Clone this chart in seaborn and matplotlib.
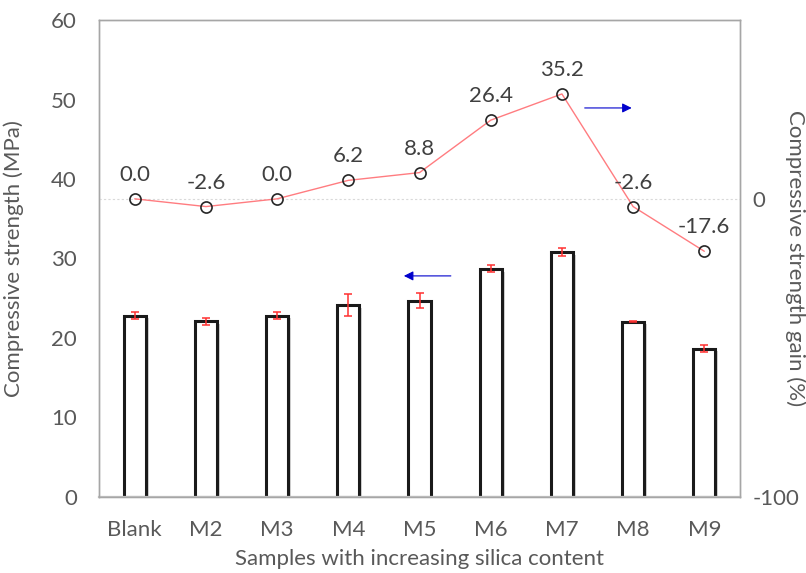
import numpy as np
import pandas as pd
import matplotlib
matplotlib.use('Agg')
import matplotlib.pyplot as plt
import matplotlib.patheffects as pe
import seaborn as sns

samples = ['Blank', 'M2', 'M3', 'M4', 'M5', 'M6', 'M7', 'M8', 'M9']
strength = [22.8, 22.1, 22.8, 24.15, 24.7, 28.7, 30.8, 22.05, 18.65]
strength_err = [0.45, 0.45, 0.4, 1.4, 0.9, 0.45, 0.45, 0.08, 0.45]
gain = [0.0, -2.6, 0.0, 6.2, 8.8, 26.4, 35.2, -2.6, -17.6]

sns.set_style('white')
plt.rcParams['font.family'] = ['Lato', 'DejaVu Sans']
plt.rcParams['axes.unicode_minus'] = False

tick_col = '#595959'
label_col = '#404040'
frame_col = '#A6A6A6'
fs = 16

df = pd.DataFrame({'sample': samples, 'strength': strength})

fig = plt.figure(figsize=(8.06, 5.73), dpi=100)
ax = fig.add_axes([0.123, 0.133, 0.795, 0.832])

sns.barplot(data=df, x='sample', y='strength', ax=ax, color='white',
            edgecolor='#1a1a1a', linewidth=2.2, width=0.31, errorbar=None)
for bar in ax.patches:
    bar.set_path_effects([pe.SimplePatchShadow(offset=(2, -2), alpha=0.25), pe.Normal()])
ax.errorbar(np.arange(len(samples)), strength, yerr=strength_err, fmt='none',
            ecolor='#FF3030', elinewidth=1.1, capsize=3, capthick=1.1, zorder=5)

ax.set_ylim(0, 60)
ax.set_yticks(range(0, 61, 10))
ax.set_xlim(-0.5, len(samples) - 0.5)
ax.set_ylabel('Compressive strength (MPa)', fontsize=fs, color=tick_col)
ax.yaxis.set_label_coords(-0.117, 0.5)
ax.set_xlabel('Samples with increasing silica content', fontsize=fs, color=tick_col, labelpad=6)
ax.tick_params(axis='y', length=0, labelsize=fs, labelcolor=tick_col, pad=16)
ax.tick_params(axis='x', length=0, labelsize=fs, labelcolor=tick_col, pad=17)

ax2 = ax.twinx()
ax2.set_ylim(-100, 60)
ax2.set_yticks([-100, 0])
ax2.grid(axis='y', color='#D9D9D9', linestyle=(0, (2, 2)), linewidth=0.8)
ax2.set_axisbelow(True)
sns.lineplot(x=np.arange(len(samples)), y=gain, ax=ax2, color='#FF7C80', linewidth=1,
             marker='o', markersize=8, markerfacecolor='none', markeredgecolor='#262626',
             markeredgewidth=1.2)
for i, g in enumerate(gain):
    ax2.annotate(f'{g:.1f}', (i, g), xytext=(0, 10), textcoords='offset points',
                 ha='center', va='bottom', fontsize=fs, color=label_col)
ax2.set_ylabel('Compressive strength gain (%)', fontsize=fs, color=tick_col,
               rotation=270, va='center', ha='center')
ax2.yaxis.set_label_coords(1.087, 0.5)
ax2.tick_params(axis='y', length=0, labelsize=fs, labelcolor=tick_col, pad=9)

for a in (ax, ax2):
    for s in a.spines.values():
        s.set_color(frame_col)
        s.set_linewidth(1)
ax.spines['bottom'].set_color('#BFBFBF')
ax.spines['bottom'].set_linewidth(1.6)

# direction arrows: left one points to strength axis, right one to gain axis
ax.annotate('', xy=(3.78, 27.8), xytext=(4.44, 27.8),
            arrowprops=dict(arrowstyle='-|>', color='#0000CC', lw=0.8,
                            mutation_scale=14, shrinkA=0, shrinkB=0))
ax2.annotate('', xy=(6.98, 30.5), xytext=(6.32, 30.5),
             arrowprops=dict(arrowstyle='-|>', color='#0000CC', lw=0.8,
                             mutation_scale=14, shrinkA=0, shrinkB=0))

fig.savefig('out.png', dpi=100)
